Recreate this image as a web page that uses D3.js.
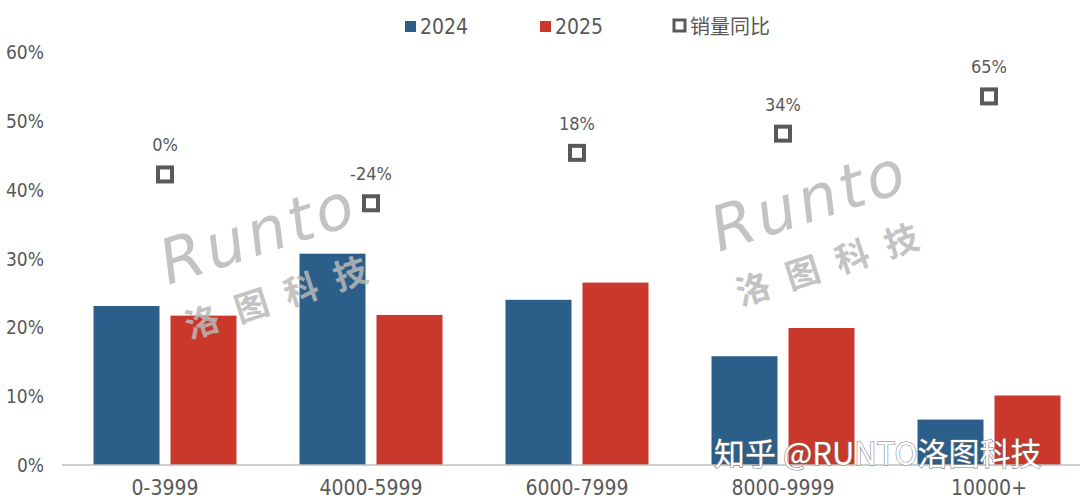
<!DOCTYPE html>
<html><head><meta charset="utf-8">
<script src="https://cdn.jsdelivr.net/npm/d3@7/dist/d3.min.js"></script>
<style>
html,body{margin:0;padding:0;background:#fff;}
svg{display:block;}
.num{font-family:"Liberation Sans Narrow","DejaVu Sans Condensed","Roboto Condensed",sans-serif;}
</style></head>
<body>
<svg id="chart" width="1080" height="503"></svg>
<script>
const categories = ["0-3999","4000-5999","6000-7999","8000-9999","10000+"];
const series = ["2024","2025"];
const values2024 = [0.231, 0.307, 0.240, 0.158, 0.066];
const values2025 = [0.217, 0.218, 0.265, 0.199, 0.101];
const yoy = [0, -24, 18, 34, 65];
const yoyLabels = ["0%","-24%","18%","34%","65%"];
const yTicks = [0,0.1,0.2,0.3,0.4,0.5,0.6];
const legendLabels = ["2024","2025","销量同比"];
const colors = {"2024":"#2b5f8a","2025":"#c9382a"};
const grey = "#595959";

const svg = d3.select("#chart");
const x0 = d3.scaleBand().domain(categories).range([62,1092]).paddingInner(0).paddingOuter(0);
const x1 = d3.scaleBand().domain(series).range([31.5, x0.bandwidth()-31.5]).paddingInner(0.143).paddingOuter(0);
const y = d3.scaleLinear().domain([0,0.6]).range([465,52]);
const y2 = d3.scaleLinear().domain([-242,102]).range([465,52]);

// y axis labels
const yAxis = d3.axisLeft(y).tickValues(yTicks).tickFormat(d=>Math.round(d*100)+"%").tickSize(0).tickPadding(0);
const ga = svg.append("g").attr("transform","translate(44,0)").call(yAxis);
ga.select(".domain").remove();
ga.selectAll("text").attr("class","num").attr("font-size",19).attr("fill",grey).attr("dy","0.35em");

// bars
const data = categories.map((c,i)=>({c, v:{"2024":values2024[i],"2025":values2025[i]}}));
const gb = svg.append("g");
data.forEach(d=>{
  series.forEach(s=>{
    gb.append("rect")
      .attr("x", x0(d.c)+x1(s))
      .attr("y", y(d.v[s]))
      .attr("width", x1.bandwidth())
      .attr("height", y(0)-y(d.v[s]))
      .attr("fill", colors[s]);
  });
});

// x axis
const xAxis = d3.axisBottom(x0).tickSize(0).tickPadding(15);
const gx = svg.append("g").attr("transform","translate(0,465)").call(xAxis);
gx.select(".domain").attr("stroke","#bfbfbf").attr("stroke-width",1.5).attr("d","M62,0H1080");
gx.selectAll("text").attr("class","num").attr("font-size",21).attr("fill",grey);

// markers
const gm = svg.append("g");
categories.forEach((c,i)=>{
  const cx = x0(c)+x0.bandwidth()/2;
  const cy = y2(yoy[i]);
  gm.append("rect").attr("x",cx-7).attr("y",cy-7).attr("width",14).attr("height",14)
    .attr("fill","#fff").attr("stroke",grey).attr("stroke-width",4);
  gm.append("text").attr("class","num").attr("x",cx).attr("y",cy-23)
    .attr("text-anchor","middle").attr("font-size",18).attr("fill",grey).text(yoyLabels[i]);
});

// watermarks
function watermark(tx,ty){
  const g = svg.append("g").attr("transform",`translate(${tx},${ty}) rotate(-18)`).attr("opacity",0.85);
  g.append("text").attr("x",0).attr("y",0).attr("font-family","DejaVu Sans, sans-serif")
    .attr("font-size",62).attr("letter-spacing",4).attr("fill","#b9b9b9").attr("font-style","italic").text("Runto");
  g.append("text").attr("x",4).attr("y",58).attr("font-family","Noto Sans CJK SC, sans-serif")
    .attr("font-size",34).attr("font-weight",700).attr("letter-spacing",18).attr("fill","#b9b9b9").text("洛图科技");
}
watermark(168,285);
watermark(719,252);

// legend
const lg = svg.append("g");
const legendX = [405,540,672];
legendLabels.forEach((t,i)=>{
  if(i<2){
    lg.append("rect").attr("x",legendX[i]).attr("y",21).attr("width",11).attr("height",11).attr("fill",colors[series[i]]);
  } else {
    lg.append("rect").attr("x",legendX[i]+2).attr("y",20).attr("width",11).attr("height",11)
      .attr("fill","#fff").attr("stroke",grey).attr("stroke-width",3);
  }
  lg.append("text").attr("x",legendX[i]+(i<2?15:18)).attr("y",34)
    .attr("font-family", i<2 ? "Liberation Sans Narrow, DejaVu Sans Condensed, sans-serif" : "Noto Sans CJK SC, sans-serif")
    .attr("font-size",i<2?21:20).attr("fill",grey).text(t);
});

// bottom-right credit
svg.append("text").attr("x",714).attr("y",465).attr("font-family","Noto Sans CJK SC, sans-serif")
  .attr("font-size",31).attr("fill","#ffffff").attr("stroke","#7a7a7a").attr("stroke-width",1.1)
  .attr("paint-order","stroke").text("知乎 @RUNTO洛图科技");
</script>
</body></html>
